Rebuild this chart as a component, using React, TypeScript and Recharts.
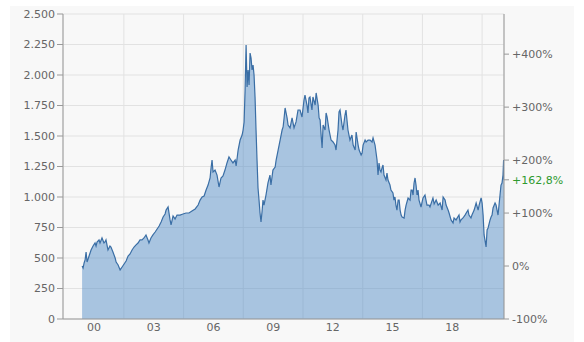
import { ComposedChart, Area, Line, XAxis, YAxis, CartesianGrid } from "recharts";

const FONT = "'DejaVu Sans', Verdana, sans-serif";

// decimal years (one point per ~2-3 weeks)
const dates = [
  1999.90, 1999.95, 2000.00, 2000.05, 2000.10, 2000.15, 2000.25, 2000.35, 2000.45, 2000.55,
  2000.60, 2000.65, 2000.75, 2000.80, 2000.90, 2001.00, 2001.05, 2001.10, 2001.20, 2001.30,
  2001.35, 2001.45, 2001.56, 2001.61, 2001.71, 2001.81, 2001.91, 2002.01, 2002.11, 2002.21,
  2002.31, 2002.41, 2002.51, 2002.61, 2002.71, 2002.81, 2002.91, 2003.01, 2003.11, 2003.21,
  2003.26, 2003.36, 2003.46, 2003.57, 2003.67, 2003.77, 2003.87, 2003.97, 2004.07, 2004.12,
  2004.22, 2004.32, 2004.37, 2004.47, 2004.57, 2004.67, 2004.82, 2004.97, 2005.12, 2005.27,
  2005.42, 2005.58, 2005.73, 2005.83, 2005.93, 2006.03, 2006.13, 2006.23, 2006.33, 2006.38,
  2006.43, 2006.48, 2006.58, 2006.68, 2006.78, 2006.88, 2006.98, 2007.08, 2007.18, 2007.28,
  2007.38, 2007.48, 2007.59, 2007.64, 2007.74, 2007.84, 2007.94, 2007.99, 2008.04, 2008.09,
  2008.14, 2008.19, 2008.24, 2008.29, 2008.34, 2008.39, 2008.44, 2008.49, 2008.54, 2008.59,
  2008.64, 2008.69, 2008.74, 2008.79, 2008.84, 2008.89, 2008.94, 2008.99, 2009.04, 2009.14,
  2009.24, 2009.34, 2009.39, 2009.49, 2009.60, 2009.65, 2009.75, 2009.85, 2009.95, 2010.00,
  2010.05, 2010.10, 2010.20, 2010.25, 2010.35, 2010.45, 2010.55, 2010.65, 2010.75, 2010.85,
  2010.95, 2011.05, 2011.10, 2011.20, 2011.25, 2011.30, 2011.35, 2011.45, 2011.50, 2011.61,
  2011.66, 2011.76, 2011.81, 2011.86, 2011.91, 2011.96, 2012.01, 2012.11, 2012.16, 2012.21,
  2012.31, 2012.41, 2012.51, 2012.61, 2012.66, 2012.76, 2012.81, 2012.86, 2012.96, 2013.01,
  2013.11, 2013.16, 2013.26, 2013.31, 2013.36, 2013.46, 2013.52, 2013.62, 2013.67, 2013.77,
  2013.82, 2013.92, 2013.97, 2014.02, 2014.12, 2014.17, 2014.27, 2014.37, 2014.47, 2014.52,
  2014.62, 2014.72, 2014.77, 2014.82, 2014.87, 2014.92, 2014.97, 2015.02, 2015.07, 2015.17,
  2015.22, 2015.27, 2015.37, 2015.42, 2015.52, 2015.57, 2015.62, 2015.67, 2015.72, 2015.78,
  2015.83, 2015.88, 2015.93, 2015.98, 2016.08, 2016.13, 2016.18, 2016.28, 2016.38, 2016.43,
  2016.48, 2016.53, 2016.58, 2016.63, 2016.68, 2016.73, 2016.78, 2016.83, 2016.93, 2017.03,
  2017.13, 2017.23, 2017.33, 2017.38, 2017.53, 2017.59, 2017.69, 2017.79, 2017.89, 2017.99,
  2018.04, 2018.14, 2018.19, 2018.29, 2018.34, 2018.44, 2018.54, 2018.59, 2018.69, 2018.84,
  2018.89, 2018.94, 2019.04, 2019.14, 2019.29, 2019.34, 2019.44, 2019.49, 2019.60, 2019.70,
  2019.80, 2019.85, 2019.95, 2020.00, 2020.05, 2020.10, 2020.20, 2020.25, 2020.30, 2020.40,
  2020.45, 2020.50, 2020.55, 2020.65, 2020.70, 2020.80, 2020.85, 2020.90, 2020.95, 2021.00,
  2021.05, 2021.08, 2021.10,
];

const prices = [
  434, 418, 459, 484, 549, 467, 516, 566, 598, 623,
  598, 631, 648, 623, 664, 623, 631, 648, 566, 598,
  590, 549, 500, 467, 443, 402, 426, 451, 475, 516,
  533, 566, 590, 607, 623, 648, 648, 664, 689, 648,
  623, 664, 689, 713, 738, 762, 795, 836, 861, 893,
  918, 812, 771, 844, 820, 852, 852, 861, 869, 869,
  885, 902, 934, 975, 1000, 1008, 1057, 1098, 1156, 1238,
  1303, 1205, 1221, 1180, 1082, 1156, 1172, 1221, 1279, 1328,
  1303, 1279, 1303, 1254, 1385, 1467, 1508, 1549, 1615, 1877,
  2246, 1902, 2041, 1918, 2180, 2139, 2041, 2082, 2000, 1820,
  1549, 1303, 1074, 975, 869, 795, 877, 975, 934, 1016,
  1115, 1180, 1098, 1221, 1246, 1303, 1385, 1467, 1549, 1574,
  1648, 1730, 1648, 1590, 1566, 1648, 1566, 1615, 1713, 1713,
  1656, 1795, 1836, 1754, 1689, 1812, 1820, 1713, 1820, 1754,
  1853, 1754, 1648, 1631, 1508, 1402, 1590, 1549, 1689, 1656,
  1549, 1467, 1451, 1426, 1385, 1549, 1697, 1713, 1590, 1549,
  1672, 1713, 1549, 1508, 1467, 1508, 1426, 1385, 1533, 1426,
  1385, 1344, 1361, 1426, 1467, 1451, 1467, 1467, 1451, 1484,
  1426, 1303, 1180, 1279, 1221, 1205, 1238, 1262, 1180, 1139,
  1197, 1139, 1098, 1057, 1033, 975, 1000, 934, 893, 975,
  975, 893, 852, 836, 828, 893, 934, 992, 975, 1057,
  1057, 1016, 1115, 1156, 1098, 1016, 1057, 975, 918, 992,
  1016, 934, 934, 918, 992, 943, 975, 934, 951, 893,
  1000, 975, 934, 893, 869, 812, 787, 828, 812, 852,
  795, 812, 828, 852, 893, 852, 828, 852, 893, 951,
  893, 934, 992, 951, 852, 689, 590, 730, 746, 812,
  836, 852, 910, 951, 934, 852, 934, 1016, 1098, 1115,
  1180, 1303, 1141,
];

const lastChange = 162.8; // % since start, shown in green on the right axis
const leftTicks = [0, 250, 500, 750, 1000, 1250, 1500, 1750, 2000, 2250, 2500];
const pctTicks = [-100, 0, 100, 200, 300, 400];
const labelYears = [2000.5, 2003.5, 2006.5, 2009.5, 2012.5, 2015.5, 2018.5];
const gridYears = [2002, 2005, 2008, 2011, 2014, 2017, 2020];
const xDomain = [1998.94, 2021.1];

const data = dates.map((d, i) => ({ date: d, price: prices[i] }));
const lastPrice = prices[prices.length - 1];
const basePrice = lastPrice / (1 + lastChange / 100);
const rightTicks = [...pctTicks.map((p) => basePrice * (1 + p / 100)), lastPrice].sort((a, b) => a - b);

const fmtThousands = (v: number) =>
  String(v).replace(/\B(?=(\d{3})+(?!\d))/g, ".");

function PctTick(props: any) {
  const { x, y, payload } = props;
  const isLast = Math.abs(payload.value - lastPrice) < 0.01;
  const pct = Math.round((payload.value / basePrice - 1) * 100);
  const label = isLast
    ? `+${lastChange.toFixed(1).replace(".", ",")}%`
    : `${pct > 0 ? "+" : ""}${pct}%`;
  return (
    <text x={x} y={y} dy="0.355em" textAnchor="start" fontSize={11} fontFamily={FONT}
      fill={isLast ? "#2f9a2f" : "#666"}>
      {label}
    </text>
  );
}

export default function App() {
  return (
    <div style={{ position: "absolute", left: 0, top: 0, width: 584, height: 342, background: "#fff" }}>
      <div style={{ position: "absolute", left: 10, top: 6, width: 564, height: 336, background: "#f8f8f8" }} />
      <div style={{ position: "absolute", left: 0, top: 0 }}>
        <ComposedChart width={584} height={342} data={data}
          margin={{ top: 14, right: 20, bottom: 3, left: 13 }}>
          <CartesianGrid xAxisId="grid" yAxisId="left" stroke="#e2e2e2" />
          <XAxis xAxisId="grid" orientation="top" type="number" dataKey="date" domain={xDomain}
            ticks={gridYears} allowDataOverflow hide />
          <XAxis xAxisId="main" type="number" dataKey="date" domain={xDomain} ticks={labelYears}
            interval={0} allowDataOverflow height={20} tickLine={false} tickSize={4} tickMargin={0}
            axisLine={{ stroke: "#999" }}
            tick={{ fill: "#666", fontSize: 11, fontFamily: FONT }}
            tickFormatter={(v: number) => String(Math.floor(v) % 100).padStart(2, "0")} />
          <YAxis yAxisId="left" domain={[0, 2500]} ticks={leftTicks} interval={0} width={50}
            allowDataOverflow tickSize={6} tickMargin={2}
            axisLine={{ stroke: "#999" }} tickLine={{ stroke: "#999" }}
            tick={{ fill: "#666", fontSize: 11, fontFamily: FONT }}
            tickFormatter={fmtThousands} />
          <YAxis yAxisId="right" orientation="right" domain={[0, 2500]} ticks={rightTicks}
            interval={0} width={60} allowDataOverflow tickSize={5} tickMargin={3}
            axisLine={{ stroke: "#999" }} tickLine={{ stroke: "#999" }}
            tick={<PctTick />} />
          <Area xAxisId="main" yAxisId="left" type="linear" dataKey="price"
            stroke="#3a6ea5" strokeWidth={1.2} fill="#5890c8" fillOpacity={0.5}
            isAnimationActive={false} />
          <Line xAxisId="grid" yAxisId="right" type="linear" dataKey="price"
            stroke="none" dot={false} activeDot={false} isAnimationActive={false} />
        </ComposedChart>
      </div>
    </div>
  );
}
